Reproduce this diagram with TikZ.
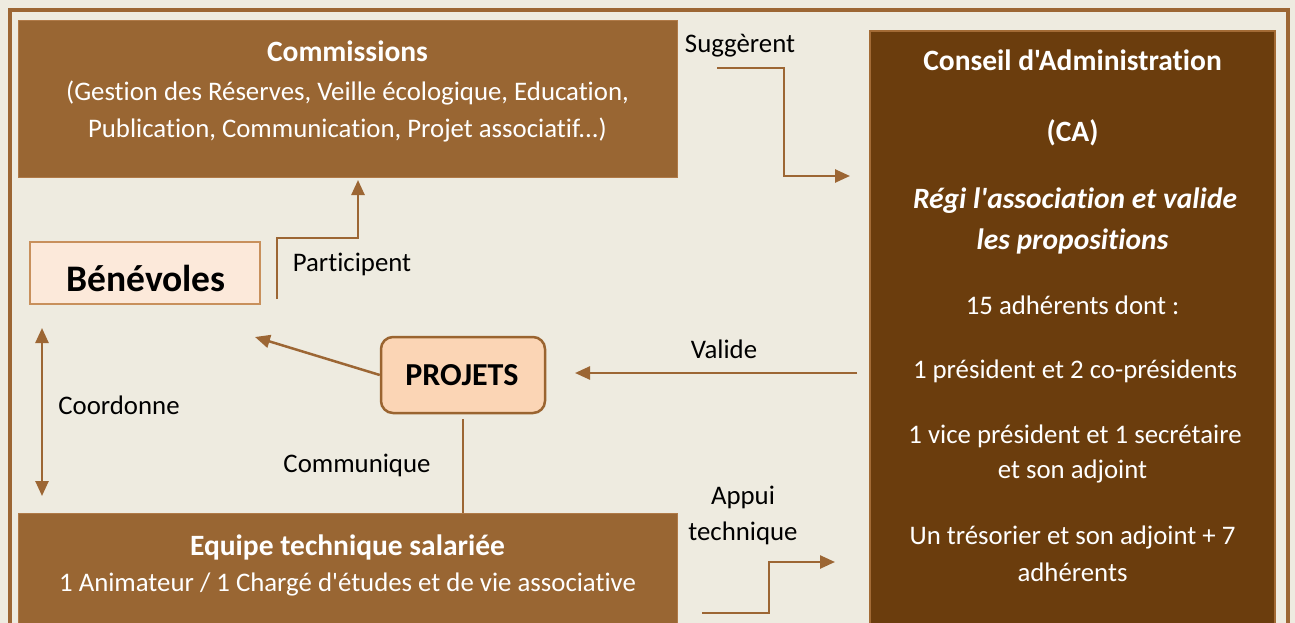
\documentclass[tikz,border=0pt]{standalone}
\usepackage{fontspec}
\setmainfont{Carlito}[Ligatures={TeXOff,NoCommon}]
\usetikzlibrary{arrows.meta}
\definecolor{bg}{HTML}{EEEBE0}
\definecolor{frame}{HTML}{9C6634}
\definecolor{comfill}{HTML}{996633}
\definecolor{comline}{HTML}{B07A48}
\definecolor{cafill}{HTML}{6B3D0D}
\definecolor{caline}{HTML}{A36B35}
\definecolor{benfill}{HTML}{FCE9DA}
\definecolor{benline}{HTML}{C8905C}
\definecolor{projfill}{HTML}{FBD5B5}
\definecolor{projline}{HTML}{9A6430}
\tikzset{
  txt/.style={anchor=base, inner sep=0pt, font=\fontsize{26.8}{30}\selectfont},
  wtxt/.style={txt, text=white},
  bwtxt/.style={wtxt, font=\fontsize{29.5}{33}\selectfont\bfseries},
  biwtxt/.style={wtxt, font=\fontsize{29.5}{33}\selectfont\bfseries\itshape},
  bbox/.style={draw=comline, fill=comfill, line width=1pt, inner sep=0pt},
  conn/.style={draw=frame, line width=2.5pt, -{Triangle[length=15pt,width=13pt]}},
  plain/.style={draw=frame, line width=2.5pt},
}
\begin{document}
\begin{tikzpicture}[x=1pt,y=-1pt]
\useasboundingbox (0,0) rectangle (1295,623);
\clip (0,0) rectangle (1295,623);
\fill[bg] (0,0) rectangle (1295,623);
\draw[frame, line width=4pt] (10,10) rectangle (1287.5,660);
% Commissions
\node[bbox, minimum width=659pt, minimum height=156pt] (com) at (347.5,99) {};
\node[bwtxt] (comT) at (347.5,62) {Commissions};
\node[wtxt] (comL1) at (347.5,101) {(Gestion des Réserves, Veille écologique, Education,};
\node[wtxt] (comL2) at (347.5,138) {Publication, Communication, Projet associatif...)};
% Equipe
\node[bbox, minimum width=659pt, minimum height=150pt] (eq) at (347.5,588) {};
\node[bwtxt] (eqT) at (347.5,555) {Equipe technique salariée};
\node[wtxt] (eqL) at (347.5,591) {1 Animateur / 1 Chargé d'études et de vie associative};
% CA
\node[draw=caline, fill=cafill, line width=2.5pt, minimum width=405pt, minimum height=640pt, inner sep=0pt] (ca) at (1072.5,351) {};
\node[bwtxt] (ca1) at (1072.5,71) {Conseil d'Administration};
\node[bwtxt] (ca2) at (1072.5,142) {(CA)};
\node[biwtxt] (ca3) at (1075,208) {Régi l'association et valide};
\node[biwtxt] (ca4) at (1072.5,249) {les propositions};
\node[wtxt] (ca5) at (1072.5,314) {15 adhérents dont :};
\node[wtxt] (ca6) at (1075,378) {1 président et 2 co-présidents};
\node[wtxt] (ca7) at (1075,443) {1 vice président et 1 secrétaire};
\node[wtxt] (ca8) at (1072.5,478) {et son adjoint};
\node[wtxt] (ca9) at (1072.5,544) {Un trésorier et son adjoint + 7};
\node[wtxt] (ca10) at (1072.5,581) {adhérents};
% Benevoles
\node[draw=benline, fill=benfill, line width=1.5pt, minimum width=230pt, minimum height=62pt, inner sep=0pt] (ben) at (145,273) {};
\node[txt, font=\fontsize{37.5}{42}\selectfont\bfseries] (benT) at (146,291) {Bénévoles};
% Projets
\node[draw=projline, fill=projfill, line width=2.5pt, rounded corners=12pt, minimum width=164pt, minimum height=76pt, inner sep=0pt] (proj) at (463,375) {};
\node[txt, font=\fontsize{32}{36}\selectfont\bfseries] (projT) at (462,385) {PROJETS};
% coordinates for connectors
\coordinate (sugA) at (717,68);
\coordinate (sugB) at (850,176);
\coordinate (parA) at (277,299);
\coordinate (parB) at (358,180);
\coordinate (benTip) at (255,337);
\coordinate (valA) at (857,373);
\coordinate (valB) at (575,373);
\coordinate (coA) at (42,328);
\coordinate (coB) at (42,496);
\coordinate (appA) at (702,613);
\coordinate (appB) at (835,562);
% connectors
\draw[conn] (sugA) -- (784,68) |- (sugB);
\draw[conn] (parA) -- (277,238) -| (parB);
\draw[conn] (proj.west) -- (benTip);
\draw[conn] (valA) -- (valB);
\draw[conn, {Triangle[length=15pt,width=13pt]}-{Triangle[length=15pt,width=13pt]}] (coA) -- (coB);
\draw[plain] (proj.south |- 0,419) -- (proj.south |- eq.north);
\draw[conn] (appA) -- (769,613) |- (appB);
% labels
\node[txt] (lSug) at (740,53) {Suggèrent};
\node[txt] (lPar) at (352,271) {Participent};
\node[txt] (lVal) at (724,358) {Valide};
\node[txt] (lCoo) at (119,414) {Coordonne};
\node[txt] (lCom) at (357,472) {Communique};
\node[txt] (lApp1) at (743,504) {Appui};
\node[txt] (lApp2) at (743,540) {technique};
\end{tikzpicture}
\end{document}
